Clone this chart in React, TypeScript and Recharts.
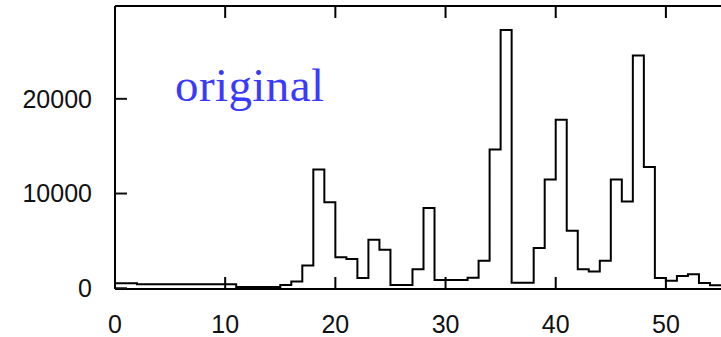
import { ComposedChart, Line, XAxis, YAxis } from "recharts";

// left edge of each unit-wide bin
const binStart = [
  0, 1, 2, 3, 4, 5, 6, 7, 8, 9, 10, 11, 12, 13, 14, 15, 16, 17, 18, 19, 20,
  21, 22, 23, 24, 25, 26, 27, 28, 29, 30, 31, 32, 33, 34, 35, 36, 37, 38, 39,
  40, 41, 42, 43, 44, 45, 46, 47, 48, 49, 50, 51, 52, 53, 54, 55,
];
const counts = [
  530, 530, 420, 420, 420, 420, 420, 420, 420, 420, 420, 120, 120, 120, 120,
  350, 700, 2390, 12530, 9070, 3280, 3100, 1090, 5120, 4060, 350, 350, 2010,
  8470, 880, 880, 880, 1120, 2890, 14650, 27260, 580, 580, 4240, 11470, 17800,
  6070, 2010, 1760, 2890, 11470, 9170, 24580, 12800, 1090, 790, 1300, 1490,
  560, 320, 320,
];
const xTicks = [0, 10, 20, 30, 40, 50];
const yTicks = [0, 10000, 20000];

const data = binStart.map((x, i) => ({ x, count: counts[i] }));

const tickFont = { fill: "#111", fontSize: 25, fontFamily: "Liberation Sans, Arial, sans-serif" };
const border = { stroke: "#000", strokeWidth: 2 };

export default function App() {
  return (
    <div style={{ position: "absolute", left: 0, top: 0, width: 721, height: 337, overflow: "hidden", background: "#fff" }}>
      <ComposedChart width={740} height={337} data={data} margin={{ top: 6, right: 8, left: 0, bottom: 0 }}>
        <XAxis
          xAxisId="bottom"
          dataKey="x"
          type="number"
          domain={[0, 56]}
          ticks={xTicks}
          height={48}
          tick={tickFont}
          tickSize={-12}
          tickMargin={38}
          axisLine={border}
          tickLine={border}
        />
        <XAxis
          xAxisId="top"
          orientation="top"
          dataKey="x"
          type="number"
          domain={[0, 56]}
          ticks={xTicks}
          height={1}
          tickFormatter={() => ""}
          mirror
          tickSize={12}
          axisLine={border}
          tickLine={border}
        />
        <YAxis
          yAxisId="left"
          type="number"
          domain={[-80, 29800]}
          ticks={yTicks}
          width={115}
          tick={tickFont}
          tickSize={-12}
          tickMargin={35}
          axisLine={border}
          tickLine={{ stroke: "#111", strokeWidth: 2 }}
        />
        <Line
          xAxisId="bottom"
          yAxisId="left"
          type="stepAfter"
          dataKey="count"
          stroke="#000"
          strokeWidth={2}
          dot={false}
          isAnimationActive={false}
        />
      </ComposedChart>
      <svg width={721} height={337} style={{ position: "absolute", left: 0, top: 0, pointerEvents: "none" }}>
        <text x={175} y={101} fill="#3a3aff" fontSize={47} letterSpacing={0.4} fontFamily="Liberation Serif, Times New Roman, serif">
          original
        </text>
      </svg>
    </div>
  );
}
